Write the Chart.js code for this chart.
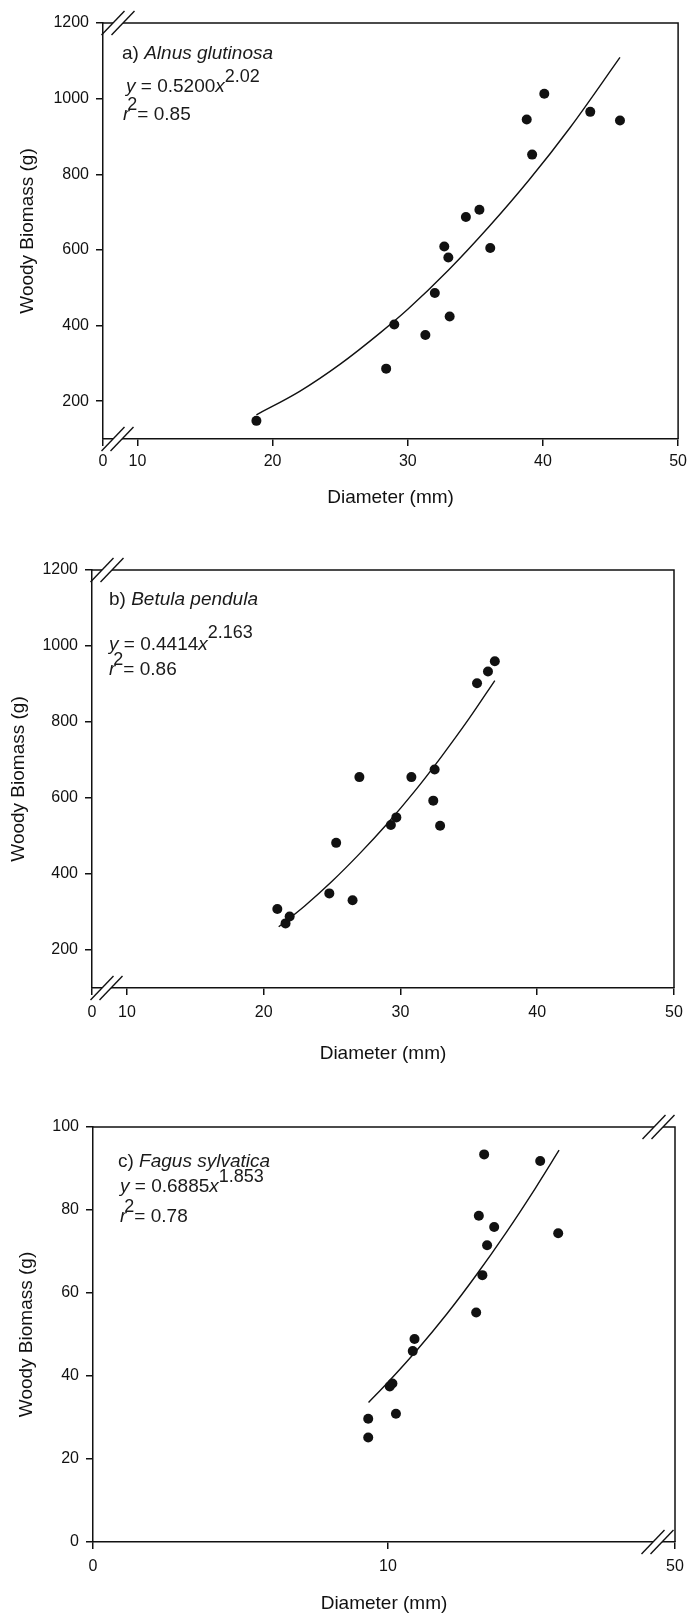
<!DOCTYPE html>
<html>
<head>
<meta charset="utf-8">
<script src="https://cdn.jsdelivr.net/npm/chart.js@4.4.0/dist/chart.umd.min.js"></script>
<style>
    html, body { margin: 0; padding: 0; background: #fff; }
    body { width: 693px; height: 1619px; position: relative; overflow: hidden; }
    canvas { position: absolute; left: 0; }
</style>
</head>
<body>
<canvas id="chart-alnus" width="693" height="535" style="top:0"></canvas>
<canvas id="chart-betula" width="693" height="535" style="top:540px"></canvas>
<canvas id="chart-fagus" width="693" height="539" style="top:1080px"></canvas>
<script>
// a) Alnus glutinosa
const alnusDiameter = [18.8, 28.4, 29.0, 31.3, 32.0, 32.7, 33.0, 33.1, 34.3, 35.3, 36.1, 38.8, 39.2, 40.1, 43.5, 45.7];
const alnusBiomass  = [148, 286, 403, 375, 486, 609, 580, 424, 687, 706, 605, 945, 852, 1013, 965, 942];
const alnusFitDiameter = [18.8, 22, 25, 28, 30, 33, 36, 39, 42, 45.7];
const alnusFitBiomass  = [164, 226, 298, 382, 443, 546, 661, 786, 923, 1109];

// b) Betula pendula
const betulaDiameter = [21.0, 21.6, 21.9, 24.8, 25.3, 26.5, 27.0, 29.3, 29.7, 30.8, 32.4, 32.5, 32.9, 35.6, 36.4, 36.9];
const betulaBiomass  = [308, 270, 288, 349, 482, 331, 655, 529, 549, 655, 593, 675, 527, 902, 933, 960];
const betulaFitDiameter = [21.1, 23, 25, 27, 29, 31, 33, 35, 36.9];
const betulaFitBiomass  = [261, 316, 381, 453, 531, 616, 709, 808, 909];

// c) Fagus sylvatica
const fagusDiameter = [9.33, 9.33, 10.06, 10.15, 10.27, 10.84, 10.9, 12.99, 13.08, 13.2, 13.26, 13.36, 13.6, 15.16, 15.77];
const fagusBiomass  = [25.2, 29.7, 37.5, 38.2, 30.9, 46.0, 48.9, 55.3, 78.6, 64.3, 93.4, 71.5, 75.9, 91.8, 74.4];
const fagusFitDiameter = [9.34, 10, 11, 12, 13, 14, 15, 15.8];
const fagusFitBiomass  = [33.6, 38.5, 46.4, 55.0, 64.4, 74.5, 85.3, 94.4];

// axis ticks (x axes of a and b are broken between 0 and 10,
// x axis of c is broken before 50)
const xTicksBroken  = [7.45, 10, 20, 30, 40, 50];
const xLabelsBroken = ['0', '10', '20', '30', '40', '50'];
const xTicksFagus   = [0, 10, 19.73];
const xLabelsFagus  = ['0', '10', '50'];
const yTicksBiomass = [200, 400, 600, 800, 1000, 1200];
const yTicksFagus   = [0, 20, 40, 60, 80, 100];

const FONT = '"Liberation Sans", Arial, Helvetica, sans-serif';
const INK = '#111';

Chart.defaults.font.family = FONT;
Chart.defaults.color = INK;

function toPoints(xs, ys) {
    return xs.map((x, i) => ({ x: x, y: ys[i] }));
}

// "//" break symbol crossing an axis line at (cx, cy)
function drawBreak(ctx, cx, cy, gap) {
    const hw = 11.5, hh = 12;
    const k = 3 * hw / hh;
    ctx.save();
    ctx.fillStyle = '#fff';
    ctx.beginPath();
    ctx.moveTo(cx - k, cy + 3);
    ctx.lineTo(cx + gap - k, cy + 3);
    ctx.lineTo(cx + gap + k, cy - 3);
    ctx.lineTo(cx + k, cy - 3);
    ctx.closePath();
    ctx.fill();
    ctx.strokeStyle = INK;
    ctx.lineWidth = 1.4;
    [0, gap].forEach(off => {
        ctx.beginPath();
        ctx.moveTo(cx + off - hw, cy + hh);
        ctx.lineTo(cx + off + hw, cy - hh);
        ctx.stroke();
    });
    ctx.restore();
}

// draws a line made of mixed runs (italic / superscript)
function drawRuns(ctx, x, y, runs) {
    runs.forEach(r => {
        const size = r.size || 19;
        ctx.font = (r.italic ? 'italic ' : '') + size + 'px ' + FONT;
        x += (r.dx || 0);
        ctx.fillText(r.text, x, y - (r.rise || 0));
        x += ctx.measureText(r.text).width;
    });
}

// frame on top/right, axis breaks and the in-plot legend text
const panelDecor = {
    id: 'panelDecor',
    afterDraw(chart, args, opts) {
        const { ctx, chartArea: a } = chart;
        ctx.save();
        ctx.strokeStyle = INK;
        ctx.lineWidth = 1.5;
        ctx.beginPath();
        ctx.moveTo(a.left, a.top);
        ctx.lineTo(a.right, a.top);
        ctx.lineTo(a.right, a.bottom);
        ctx.stroke();

        (opts.breaks || []).forEach(b => {
            const cx = b.side === 'left' ? a.left + b.at : a.right - b.at;
            const cy = b.edge === 'top' ? a.top : a.bottom;
            drawBreak(ctx, cx, cy, b.gap);
        });

        ctx.fillStyle = '#1a1a1a';
        ctx.textBaseline = 'alphabetic';
        ctx.textAlign = 'left';
        (opts.lines || []).forEach(l => {
            drawRuns(ctx, a.left + l.dx, a.top + l.dy, l.runs);
        });
        ctx.restore();
    }
};

function buildPanel(id, p) {
    const canvas = document.getElementById(id);
    if (!canvas) return null;

    return new Chart(canvas.getContext('2d'), {
        type: 'scatter',
        data: {
            datasets: [{
                label: 'observed',
                data: toPoints(p.xs, p.ys),
                pointRadius: 5,
                pointBackgroundColor: INK,
                pointBorderWidth: 0
            }, {
                type: 'line',
                label: 'fit',
                data: toPoints(p.fitX, p.fitY),
                borderColor: INK,
                borderWidth: 1.4,
                pointRadius: 0,
                fill: false,
                cubicInterpolationMode: 'monotone'
            }]
        },
        options: {
            responsive: false,
            animation: false,
            events: [],
            layout: { padding: { top: p.top, right: p.right, left: 0, bottom: 0 } },
            plugins: {
                legend: { display: false },
                tooltip: { enabled: false },
                panelDecor: { breaks: p.breaks, lines: p.lines }
            },
            scales: {
                x: {
                    type: 'linear',
                    min: p.xTicks[0],
                    max: p.xTicks[p.xTicks.length - 1],
                    afterFit: s => { s.height = p.xHeight; },
                    afterBuildTicks: s => { s.ticks = p.xTicks.map(v => ({ value: v })); },
                    ticks: {
                        callback: (v, i) => p.xLabels[i],
                        autoSkip: false,
                        maxRotation: 0,
                        padding: p.xTickPad,
                        color: INK,
                        font: { size: 16 }
                    },
                    grid: { drawOnChartArea: false, drawTicks: true, tickLength: 7, color: INK, lineWidth: 1.5 },
                    border: { color: INK, width: 1.5 },
                    title: {
                        display: true,
                        text: 'Diameter (mm)',
                        color: INK,
                        font: { size: 19 },
                        padding: { top: 0, bottom: p.xTitlePad }
                    }
                },
                y: {
                    type: 'linear',
                    min: p.yMin,
                    max: p.yTicks[p.yTicks.length - 1],
                    afterFit: s => { s.width = p.yWidth; },
                    afterBuildTicks: s => { s.ticks = p.yTicks.map(v => ({ value: v })); },
                    ticks: {
                        callback: v => String(v),
                        padding: 7,
                        color: INK,
                        font: { size: 16 }
                    },
                    grid: { drawOnChartArea: false, drawTicks: true, tickLength: 7, color: INK, lineWidth: 1.5 },
                    border: { color: INK, width: 1.5 },
                    title: {
                        display: true,
                        text: 'Woody Biomass (g)',
                        color: INK,
                        font: { size: 19 },
                        padding: { top: p.yTitlePad, bottom: 0 }
                    }
                }
            }
        },
        plugins: [panelDecor]
    });
}

buildPanel('chart-alnus', {
    xs: alnusDiameter, ys: alnusBiomass, fitX: alnusFitDiameter, fitY: alnusFitBiomass,
    xTicks: xTicksBroken, xLabels: xLabelsBroken, yTicks: yTicksBiomass, yMin: 100,
    top: 23, right: 13, yWidth: 103, xHeight: 96, xTickPad: 6, xTitlePad: 25.6, yTitlePad: 16.6,
    breaks: [
        { side: 'left', edge: 'top', at: 10, gap: 10 },
        { side: 'left', edge: 'bottom', at: 10, gap: 9 }
    ],
    lines: [
        { dx: 19, dy: 36, runs: [{ text: 'a) ' }, { text: 'Alnus glutinosa', italic: true }] },
        { dx: 23, dy: 69, runs: [{ text: 'y', italic: true }, { text: ' = 0.5200' }, { text: 'x', italic: true }, { text: '2.02', size: 18, rise: 10 }] },
        { dx: 20, dy: 97, runs: [{ text: 'r', italic: true }, { text: '2', size: 18, rise: 10, dx: -2 }, { text: '= 0.85' }] }
    ]
});

buildPanel('chart-betula', {
    xs: betulaDiameter, ys: betulaBiomass, fitX: betulaFitDiameter, fitY: betulaFitBiomass,
    xTicks: xTicksBroken, xLabels: xLabelsBroken, yTicks: yTicksBiomass, yMin: 100,
    top: 30, right: 19, yWidth: 92, xHeight: 87, xTickPad: 8, xTitlePad: 9.6, yTitlePad: 7.6,
    breaks: [
        { side: 'left', edge: 'top', at: 10, gap: 10 },
        { side: 'left', edge: 'bottom', at: 10, gap: 9 }
    ],
    lines: [
        { dx: 17, dy: 35, runs: [{ text: 'b) ' }, { text: 'Betula pendula', italic: true }] },
        { dx: 17, dy: 80, runs: [{ text: 'y', italic: true }, { text: ' = 0.4414' }, { text: 'x', italic: true }, { text: '2.163', size: 18, rise: 12 }] },
        { dx: 17, dy: 105, runs: [{ text: 'r', italic: true }, { text: '2', size: 18, rise: 10, dx: -2 }, { text: '= 0.86' }] }
    ]
});

buildPanel('chart-fagus', {
    xs: fagusDiameter, ys: fagusBiomass, fitX: fagusFitDiameter, fitY: fagusFitBiomass,
    xTicks: xTicksFagus, xLabels: xLabelsFagus, yTicks: yTicksFagus, yMin: 0,
    top: 47, right: 18, yWidth: 93, xHeight: 77, xTickPad: 8, xTitlePad: 3.6, yTitlePad: 15.6,
    breaks: [
        { side: 'right', edge: 'top', at: 21, gap: 9 },
        { side: 'right', edge: 'bottom', at: 22, gap: 9 }
    ],
    lines: [
        { dx: 25, dy: 40, runs: [{ text: 'c) ' }, { text: 'Fagus sylvatica', italic: true }] },
        { dx: 27, dy: 65, runs: [{ text: 'y', italic: true }, { text: ' = 0.6885' }, { text: 'x', italic: true }, { text: '1.853', size: 18, rise: 10 }] },
        { dx: 27, dy: 95, runs: [{ text: 'r', italic: true }, { text: '2', size: 18, rise: 10, dx: -2 }, { text: '= 0.78' }] }
    ]
});
</script>
</body>
</html>
